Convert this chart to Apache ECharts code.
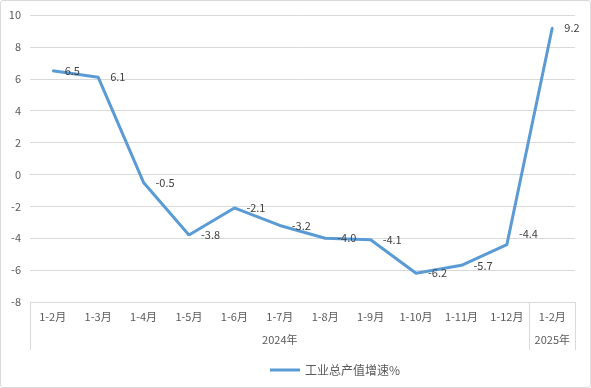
<!DOCTYPE html>
<html><head><meta charset="utf-8">
<script src="https://cdn.jsdelivr.net/npm/echarts@6/dist/echarts.min.js"></script>
<style>html,body{margin:0;padding:0;background:#fff}#c{width:591px;height:388px;box-sizing:border-box;border:1px solid #d9d9d9;border-radius:3px}</style>
</head><body><div id="c"></div>
<script>
const categories = ['1-2月','1-3月','1-4月','1-5月','1-6月','1-7月','1-8月','1-9月','1-10月','1-11月','1-12月','1-2月'];
const values = [6.5, 6.1, -0.5, -3.8, -2.1, -3.2, -4.0, -4.1, -6.2, -5.7, -4.4, 9.2];
const yearLabels = ['2024年', '2025年'];
const yearCenters = [5, 11];
const yearBounds = [-0.5, 10.5, 11.5];
const seriesName = '工业总产值增速%';
const font = "'Microsoft YaHei','Noto Sans CJK SC',sans-serif";

const seriesData = values.map((v, i) => i === 10
  ? {value: v, label: {offset: [0, -11]}}
  : v);

const chart = echarts.init(document.getElementById('c'), null, {renderer: 'canvas'});
chart.setOption({
  animation: false,
  textStyle: {fontFamily: font},
  grid: {left: 29, right: 15, top: 14, bottom: 85},
  legend: {
    data: [seriesName], left: 264, top: 358, itemWidth: 30, itemHeight: 3, itemGap: 4,
    icon: 'rect',
    textStyle: {color: '#595959', fontSize: 12, fontFamily: font}
  },
  xAxis: [{
    type: 'category', data: categories, boundaryGap: true,
    axisLine: {show: true, lineStyle: {color: '#d9d9d9'}},
    axisTick: {show: false},
    axisLabel: {color: '#595959', fontSize: 11, margin: 9, interval: 0}
  }, {
    type: 'value', position: 'bottom', min: -0.5, max: 11.5,
    axisLine: {show: false},
    splitLine: {show: false},
    axisTick: {show: true, customValues: yearBounds, length: 48, lineStyle: {color: '#d9d9d9'}},
    axisLabel: {
      show: true, customValues: yearCenters, margin: 32, color: '#595959', fontSize: 11,
      formatter: v => yearLabels[yearCenters.indexOf(v)] || ''
    }
  }],
  yAxis: {
    type: 'value', min: -8, max: 10, interval: 2,
    axisLine: {show: false}, axisTick: {show: false},
    axisLabel: {color: '#595959', fontSize: 11, margin: 9},
    splitLine: {lineStyle: {color: '#d9d9d9'}}
  },
  series: [{
    name: seriesName, type: 'line', data: seriesData, xAxisIndex: 0,
    symbol: 'circle', symbolSize: 2, showSymbol: true,
    lineStyle: {color: '#5b9bd5', width: 3},
    itemStyle: {color: '#5b9bd5'},
    label: {show: true, position: 'right', distance: 11, color: '#404040', fontSize: 11,
      formatter: p => Number(p.value).toFixed(1)}
  }]
});
</script></body></html>
